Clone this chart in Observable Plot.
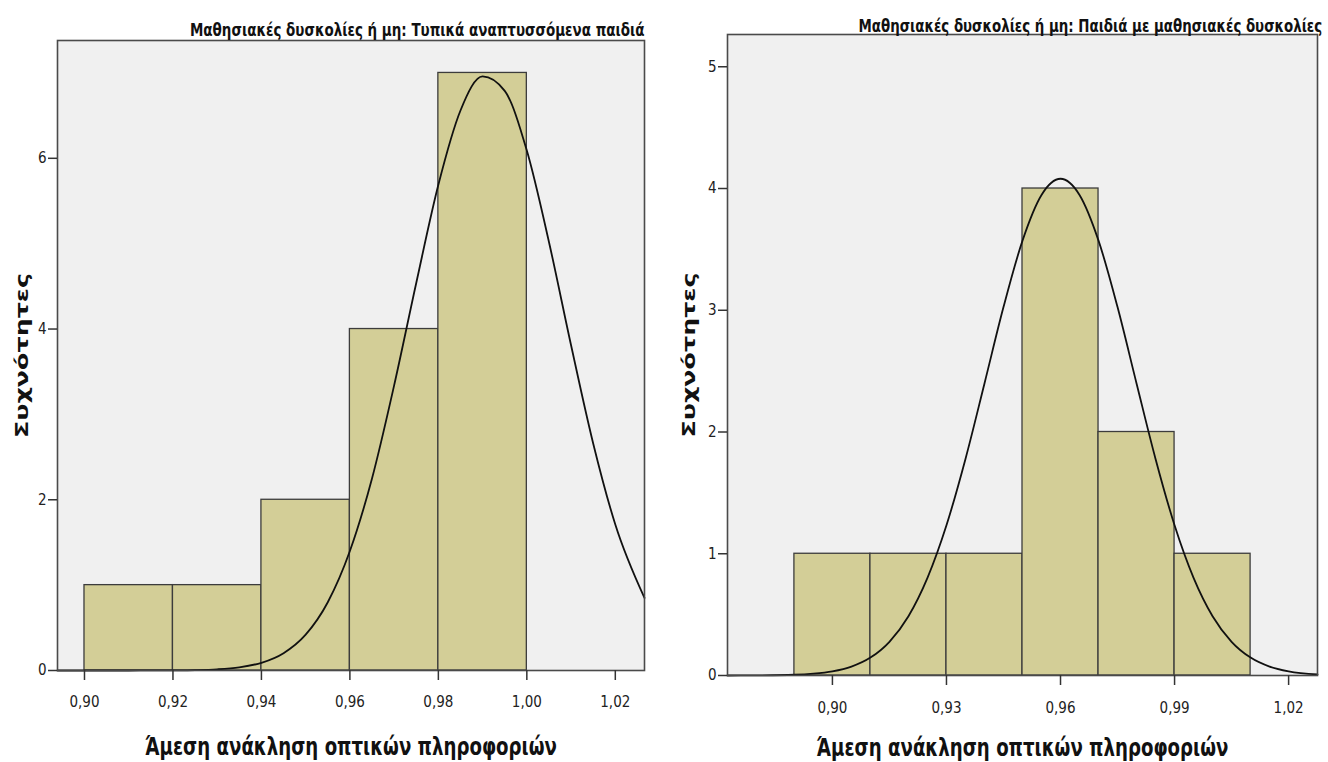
<!DOCTYPE html>
<html>
<head>
<meta charset="utf-8">
<script src="https://cdn.jsdelivr.net/npm/d3@7"></script>
<script src="https://cdn.jsdelivr.net/npm/@observablehq/plot@0.6"></script>
<style>
  html, body { margin: 0; padding: 0; background: #ffffff; overflow: hidden; }
  #wrap { position: relative; width: 1328px; height: 762px; }
  #left, #right { position: absolute; top: 0; }
  #left { left: 0; }
  #right { left: 664px; }
</style>
</head>
<body>
<div id="wrap"><div id="left"></div><div id="right"></div></div>
<script>
// ---------- data ----------
const leftTitle = "Μαθησιακές δυσκολίες ή μη: Τυπικά αναπτυσσόμενα παιδιά";
const rightTitle = "Μαθησιακές δυσκολίες ή μη: Παιδιά με μαθησιακές δυσκολίες";
const yTitle = "Συχνότητες";
const xTitle = "Άμεση ανάκληση οπτικών πληροφοριών";

const leftBinStart = [0.90, 0.92, 0.94, 0.96, 0.98];
const leftBinEnd   = [0.92, 0.94, 0.96, 0.98, 1.00];
const leftCounts   = [1, 1, 2, 4, 7];
const leftXTicks = [0.90, 0.92, 0.94, 0.96, 0.98, 1.00, 1.02];
const leftYTicks = [0, 2, 4, 6];
const leftCurveX = [0.8939, 0.90, 0.905, 0.91, 0.915, 0.92, 0.925, 0.93, 0.935, 0.94, 0.945, 0.95, 0.955, 0.96, 0.965, 0.97, 0.975, 0.98, 0.985, 0.99, 0.995, 1.00, 1.005, 1.01, 1.015, 1.02, 1.0266];
const leftCurveY = [0.000, 0.000, 0.000, 0.000, 0.001, 0.002, 0.005, 0.014, 0.037, 0.090, 0.203, 0.420, 0.80, 1.40, 2.25, 3.34, 4.54, 5.69, 6.56, 6.96, 6.79, 6.09, 5.02, 3.81, 2.66, 1.71, 0.85];

const rightBinStart = [0.89, 0.91, 0.93, 0.95, 0.97, 0.99];
const rightBinEnd   = [0.91, 0.93, 0.95, 0.97, 0.99, 1.01];
const rightCounts   = [1, 1, 1, 4, 2, 1];
const rightXTicks = [0.90, 0.93, 0.96, 0.99, 1.02];
const rightYTicks = [0, 1, 2, 3, 4, 5];
const rightCurveX = [0.8724, 0.88, 0.89, 0.895, 0.90, 0.905, 0.91, 0.915, 0.92, 0.925, 0.93, 0.935, 0.94, 0.945, 0.95, 0.955, 0.96, 0.965, 0.97, 0.975, 0.98, 0.985, 0.99, 0.995, 1.00, 1.005, 1.01, 1.015, 1.02, 1.0276];
const rightCurveY = [0.000, 0.001, 0.006, 0.015, 0.034, 0.073, 0.147, 0.277, 0.487, 0.802, 1.234, 1.779, 2.399, 3.026, 3.572, 3.947, 4.08, 3.947, 3.572, 3.026, 2.399, 1.779, 1.234, 0.802, 0.487, 0.277, 0.147, 0.073, 0.034, 0.009];

// ---------- styling ----------
const narrow = '"Liberation Sans Narrow", "DejaVu Sans Condensed", "Arial Narrow", sans-serif';
const wide = '"DejaVu Sans", Verdana, sans-serif';
const barFill = "#d3ce97";
const panelFill = "#f0f0f0";
const fmt = d => d.toFixed(2).replace(".", ",");

// squeeze a text horizontally (along its own direction) to a target length
function fitText(svg, content, len) {
  d3.select(svg).selectAll("text")
    .filter(function () { return this.textContent === content; })
    .each(function () {
      const w = this.getComputedTextLength();
      if (!w) return;
      const t = this.getAttribute("transform") || "";
      this.setAttribute("transform", (t + ` scale(${(len / w).toFixed(4)},1)`).trim());
    });
}

function panel(o, host) {
  const bins = o.starts.map((s, i) => ({x1: s, x2: o.ends[i], count: o.counts[i]}));
  const curve = o.cx.map((x, i) => ({x, y: o.cy[i]}));
  const svg = Plot.plot({
    width: 664, height: 762,
    marginTop: o.mt, marginBottom: o.mb, marginLeft: o.ml, marginRight: o.mr,
    style: {background: "transparent", fontFamily: narrow, fontSize: "15px", color: "#222", overflow: "visible"},
    x: {domain: o.xd},
    y: {domain: o.yd},
    marks: [
      Plot.frame({fill: panelFill}),
      Plot.rectY(bins, {x1: "x1", x2: "x2", y: "count", fill: barFill, stroke: "#3c3c3c", strokeWidth: 1.3}),
      Plot.line(curve, {x: "x", y: "y", curve: "monotone-x", stroke: "#111", strokeWidth: 1.8}),
      Plot.frame({stroke: "#4a4a4a", strokeWidth: 1.6}),
      Plot.axisY({ticks: o.yt, tickSize: 9, tickPadding: 2, tickFormat: d => String(d), label: null, fontSize: 15, stroke: "#333", strokeWidth: 1.5}),
      Plot.axisX({ticks: o.xt, tickSize: 10, tickPadding: o.xPad, tickFormat: fmt, label: null, fontSize: 15, stroke: "#333", strokeWidth: 1.5}),
      Plot.text([o.title], {frameAnchor: o.titleAnchor, dx: o.titleDx, dy: o.titleDy, textAnchor: o.titleTA, lineAnchor: "bottom",
        fontWeight: "bold", fontSize: 17, fill: "#111"}),
      Plot.text([yTitle], {frameAnchor: "left", dx: o.yTitleDx, rotate: -90, textAnchor: "middle", lineAnchor: "middle",
        fontFamily: wide, fontWeight: "bold", fontSize: 18, fill: "#111"}),
      Plot.text([xTitle], {frameAnchor: "bottom", dy: o.xTitleDy, textAnchor: "middle", lineAnchor: "middle",
        fontWeight: "bold", fontSize: 25, fill: "#111"})
    ]
  });
  host.appendChild(svg);
  fitText(svg, o.title, o.titleLen);
  fitText(svg, yTitle, 165);
  fitText(svg, xTitle, 412);
}

panel({
  starts: leftBinStart, ends: leftBinEnd, counts: leftCounts, cx: leftCurveX, cy: leftCurveY,
  mt: 40, mb: 92, ml: 57, mr: 20, xd: [0.8939, 1.0266], yd: [0, 7.38], xt: leftXTicks, yt: leftYTicks, xPad: 16,
  title: leftTitle, titleAnchor: "top-right", titleDx: 0, titleDy: -5, titleTA: "end", titleLen: 455,
  yTitleDx: -35, xTitleDy: 76
}, document.getElementById("left"));

panel({
  starts: rightBinStart, ends: rightBinEnd, counts: rightCounts, cx: rightCurveX, cy: rightCurveY,
  mt: 34, mb: 87, ml: 63, mr: 11, xd: [0.8724, 1.0276], yd: [0, 5.265], xt: rightXTicks, yt: rightYTicks, xPad: 17,
  title: rightTitle, titleAnchor: "top-left", titleDx: 131, titleDy: -3, titleTA: "start", titleLen: 464,
  yTitleDx: -38, xTitleDy: 72
}, document.getElementById("right"));
</script>
</body>
</html>
